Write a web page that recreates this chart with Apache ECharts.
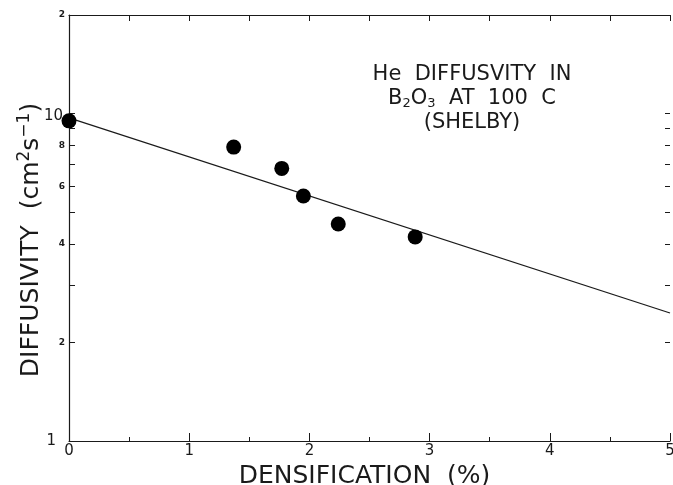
<!DOCTYPE html>
<html>
<head>
<meta charset="utf-8">
<title>He diffusivity in B2O3</title>
<script src="https://cdn.jsdelivr.net/npm/echarts@6/dist/echarts.min.js"></script>
<style>
  html, body {
    margin: 0;
    padding: 0;
    background: #fff;
  }
  #chart {
    width: 673px;
    height: 485px;
  }
</style>
</head>
<body>
<div id="chart"></div>
<script>
// measured points (Shelby)
const densX = [0, 1.37, 1.77, 1.95, 2.24, 2.88];
const diffY = [9.5, 7.9, 6.8, 5.6, 4.6, 4.2];

// fitted line end points
const fitX = [0, 5];
const fitY = [9.7, 2.46];

// log axis ticks / labels
const leftTicks = [1, 2, 3, 4, 5, 6, 7, 8, 9, 10, 20];
const leftLabels = [1, 2, 4, 6, 8, 10, 20];
const rightTicks = [2, 3, 4, 5, 6, 7, 8, 9, 10];
const yMin = 1;
const yMax = 20;

const lg = Math.log10;
const font = "DejaVu Sans";
const ink = "#1a1a1a";

const chart = echarts.init(document.getElementById("chart"));

const option = {
  animation: false,
  backgroundColor: "#fff",
  title: {
    text: "He  DIFFUSVITY  IN\nB{sub|2}O{sub|3}  AT  100  C\n(SHELBY)",
    left: 467,
    top: 58,
    textAlign: "center",
    textStyle: {
      color: ink,
      fontFamily: font,
      fontSize: 21,
      fontWeight: "normal",
      lineHeight: 24,
      rich: {
        sub: {
          fontFamily: font,
          fontSize: 13,
          color: ink,
          padding: [10, 0, 0, 0],
        },
      },
    },
  },
  grid: {
    left: 69,
    right: 3,
    top: 15,
    bottom: 44,
    outerBoundsMode: "none",
  },
  xAxis: [
    {
      type: "value",
      position: "bottom",
      min: 0,
      max: 5,
      interval: 1,
      name: "DENSIFICATION  (%)",
      nameLocation: "middle",
      nameGap: 15,
      nameTextStyle: {
        color: ink,
        fontFamily: font,
        fontSize: 25,
        padding: [0, 10, 0, 0],
      },
      axisLine: { onZero: false, lineStyle: { color: ink, width: 1.2 } },
      axisTick: { inside: true, length: 8, lineStyle: { color: ink } },
      minorTick: { show: true, splitNumber: 2, length: 4, lineStyle: { color: ink } },
      axisLabel: { margin: 3, color: ink, fontFamily: font, fontSize: 15 },
      splitLine: { show: false },
      minorSplitLine: { show: false },
    },
    {
      type: "value",
      position: "top",
      min: 0,
      max: 5,
      interval: 0.5,
      axisLine: { onZero: false, lineStyle: { color: ink, width: 1.2 } },
      axisTick: { inside: true, length: 6, lineStyle: { color: ink } },
      axisLabel: { show: false },
      splitLine: { show: false },
    },
  ],
  yAxis: [
    {
      type: "value",
      position: "left",
      min: lg(yMin),
      max: lg(yMax),
      name: "{t|DIFFUSIVITY  (cm}{sup|2}{t|s}{sup|−1}{t|)}",
      nameLocation: "middle",
      nameRotate: 90,
      nameGap: 22,
      nameMoveOverlap: false,
      nameTextStyle: {
        padding: [0, 24, 0, 0],
        rich: {
          t: { fontFamily: font, fontSize: 25, color: ink },
          sup: { fontFamily: font, fontSize: 17, color: ink, padding: [0, 0, 14, 0] },
        },
      },
      axisLine: { onZero: false, lineStyle: { color: ink, width: 1.2 } },
      axisTick: {
        inside: true,
        length: 6,
        customValues: leftTicks.map(lg),
        lineStyle: { color: ink },
      },
      axisLabel: {
        margin: 4,
        customValues: leftLabels.map(lg),
        formatter: function (v) {
          const n = Math.round(Math.pow(10, v));
          if (n === 1) return "{one|1}";
          if (n === 10) return "{big|10}";
          if (n === 20) return "{sm|2}";
          return "{sm|" + n + "}";
        },
        rich: {
          sm: { fontFamily: font, fontSize: 9, fontWeight: "bold", color: ink },
          big: { fontFamily: font, fontSize: 15, color: ink, padding: [6, 2, 0, 0] },
          one: { fontFamily: font, fontSize: 15, color: ink, padding: [0, 9, 0, 0] },
        },
      },
      splitLine: { show: false },
    },
    {
      type: "value",
      position: "right",
      min: lg(yMin),
      max: lg(yMax),
      axisLine: { show: false, onZero: false },
      axisTick: {
        show: true,
        inside: true,
        length: 5,
        customValues: rightTicks.map(lg),
        lineStyle: { color: ink },
      },
      axisLabel: { show: false },
      splitLine: { show: false },
    },
  ],
  series: [
    {
      name: "fit",
      type: "line",
      xAxisIndex: 0,
      yAxisIndex: 0,
      data: fitX.map((x, i) => [x, lg(fitY[i])]),
      symbol: "none",
      lineStyle: { color: ink, width: 1.3 },
      z: 2,
    },
    {
      name: "Shelby",
      type: "scatter",
      xAxisIndex: 0,
      yAxisIndex: 0,
      data: densX.map((x, i) => [x, lg(diffY[i])]),
      symbol: "circle",
      symbolSize: 15,
      itemStyle: { color: "#000", opacity: 1 },
      z: 3,
    },
  ],
};

chart.setOption(option);
</script>
</body>
</html>
